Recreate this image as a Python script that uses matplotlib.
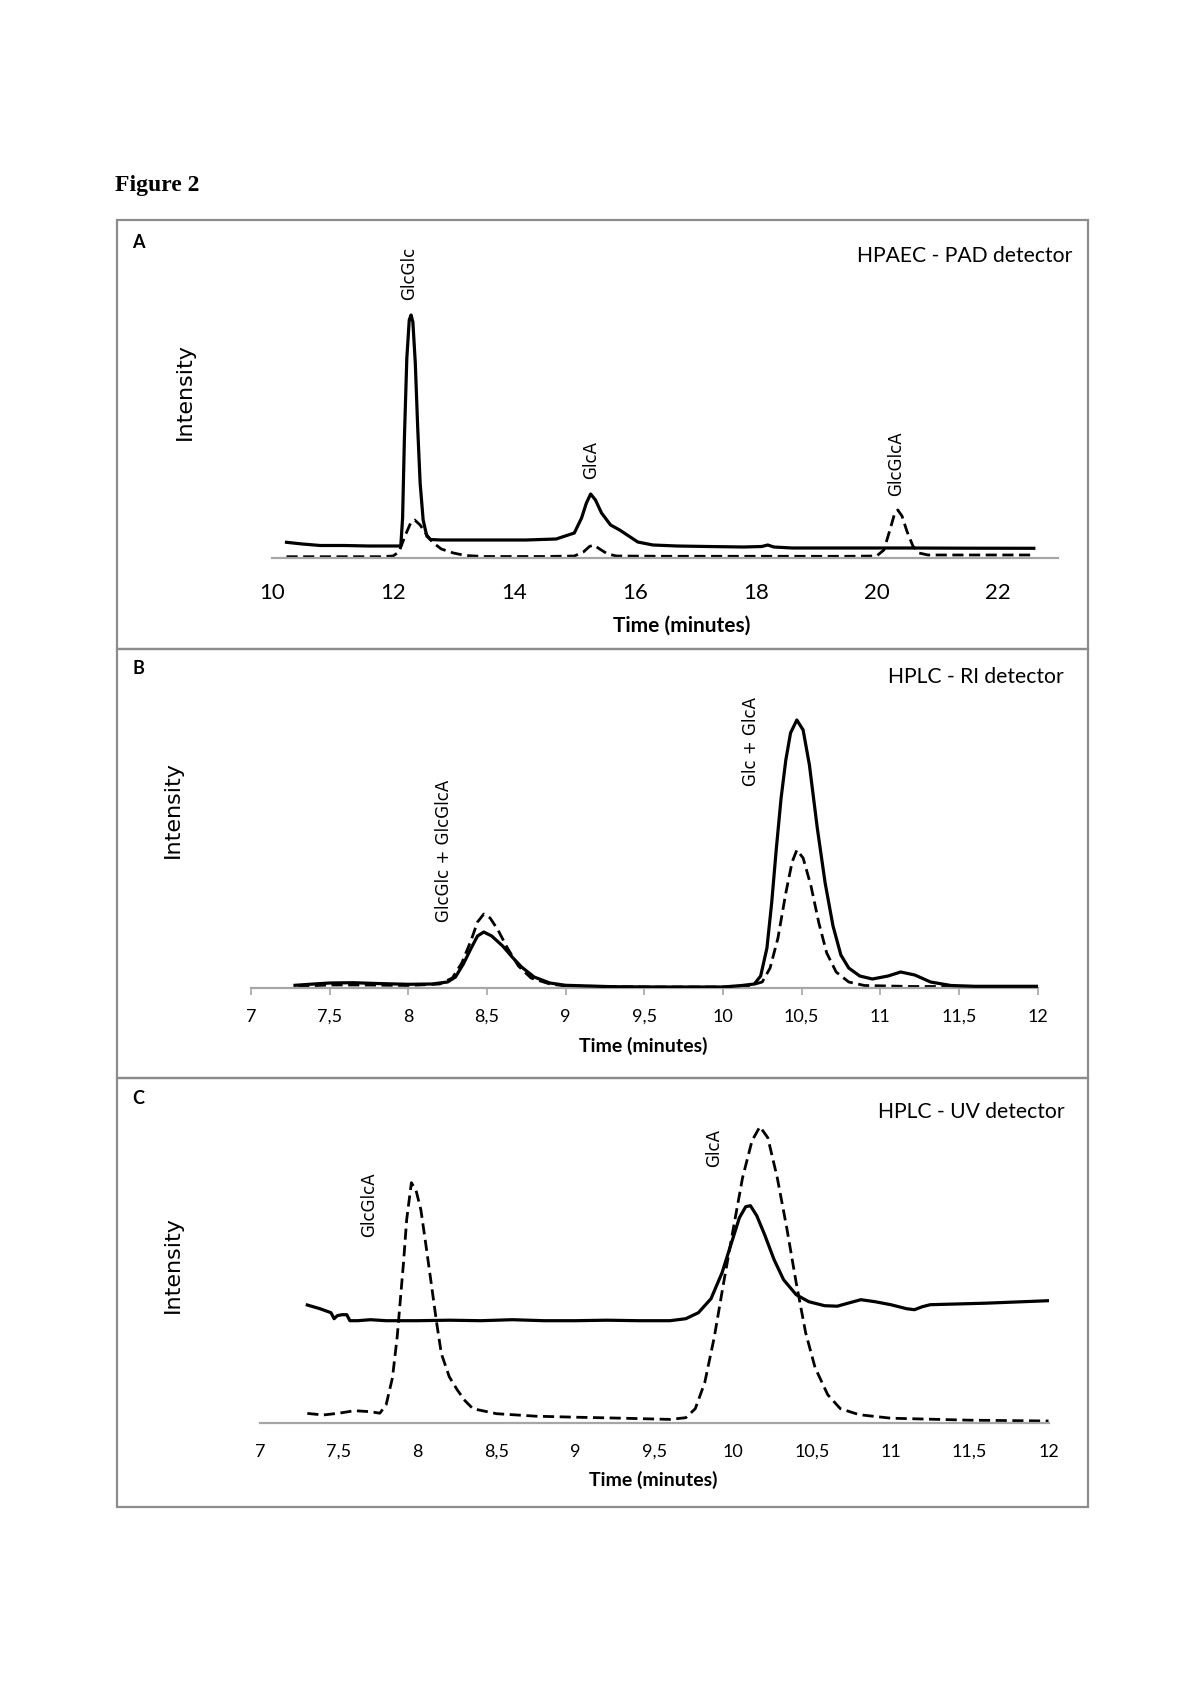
import matplotlib
matplotlib.use("Agg")
import matplotlib.pyplot as plt
from matplotlib.patches import Rectangle

# ---- data (intensity in arbitrary units) ----
# Panel A: HPAEC - PAD
a_time_solid = [10.24, 10.5, 10.8, 11.2, 11.6, 12.0, 12.13, 12.16, 12.19, 12.23, 12.27, 12.30,
                12.33, 12.37, 12.41, 12.45, 12.50, 12.56, 12.62, 12.8, 13.5, 14.2, 14.7, 15.0,
                15.12, 15.2, 15.27, 15.35, 15.45, 15.6, 15.75, 15.9, 16.05, 16.3, 16.7, 17.2,
                17.8, 18.1, 18.2, 18.3, 18.6, 19.5, 20.5, 21.5, 22.6]
a_int_solid = [15.7, 14, 12.5, 12.5, 12, 12, 12, 40, 120, 200, 238, 243,
               236, 195, 130, 75, 38, 22, 18.5, 18, 18, 18, 19, 25,
               40, 55, 64, 58, 45, 33, 28, 22, 16, 13, 12, 11.5,
               11, 11.5, 13, 11, 10, 10, 10, 9.8, 9.7]
a_time_dash = [10.24, 11.0, 11.8, 12.0, 12.1, 12.2, 12.3, 12.36, 12.45, 12.55, 12.65, 12.8,
               13.0, 13.2, 13.5, 14.5, 15.0, 15.15, 15.25, 15.32, 15.42, 15.55, 15.7, 16.5,
               18.0, 19.5, 20.0, 20.12, 20.22, 20.3, 20.35, 20.42, 20.5, 20.6, 20.7, 20.85,
               21.5, 22.6]
a_int_dash = [1.3, 1.3, 1.3, 2, 6, 22, 36, 38, 33, 24, 16, 9,
              5, 2.5, 1.5, 1.5, 2, 6, 11.5, 13, 9, 4, 2, 1.7,
              1.7, 1.7, 2, 8, 28, 45, 48, 42, 27, 12, 5, 3,
              3, 3]

# Panel B: HPLC - RI
b_time_solid = [7.28, 7.4, 7.5, 7.65, 7.8, 8.0, 8.15, 8.25, 8.3, 8.35, 8.4, 8.44, 8.48, 8.53,
                8.6, 8.66, 8.72, 8.8, 8.9, 9.0, 9.3, 9.6, 10.0, 10.12, 10.2, 10.24, 10.28,
                10.31, 10.34, 10.37, 10.40, 10.43, 10.47, 10.51, 10.55, 10.6, 10.65, 10.7,
                10.75, 10.8, 10.87, 10.95, 11.05, 11.13, 11.22, 11.32, 11.45, 11.6, 12.0]
b_int_solid = [2.7, 4, 5, 5.3, 4.5, 3.7, 4, 6, 11, 24, 40, 52, 56, 52,
               42, 31, 21, 11, 5, 2.7, 1.3, 1, 1, 2.5, 4, 12, 40,
               85, 140, 190, 228, 255, 268, 258, 223, 160, 105, 62,
               33, 20, 12, 9, 12, 16, 13, 6, 2.5, 1.7, 1.7]
b_time_dash = [7.3, 7.5, 7.7, 8.0, 8.2, 8.28, 8.34, 8.4, 8.44, 8.48, 8.52, 8.57, 8.63, 8.7,
               8.78, 8.9, 9.0, 9.5, 10.0, 10.15, 10.25, 10.3, 10.35, 10.4, 10.44, 10.47,
               10.51, 10.56, 10.61, 10.66, 10.72, 10.8, 10.9, 11.2, 12.0]
b_int_dash = [1.7, 3, 3, 2.5, 4, 10, 25, 48, 66, 74, 70, 58, 40, 22,
              10, 4, 2, 1, 1, 1.5, 6, 20, 50, 95, 126, 138,
              130, 102, 65, 35, 16, 6, 2.5, 1.5, 1.5]

# Panel C: HPLC - UV
c_time_solid = [7.30, 7.38, 7.45, 7.47, 7.49, 7.52, 7.55, 7.57, 7.62, 7.7, 7.8, 8.0, 8.2, 8.4,
                8.6, 8.8, 9.0, 9.2, 9.4, 9.6, 9.7, 9.78, 9.86, 9.93, 9.99, 10.04, 10.08,
                10.11, 10.15, 10.2, 10.26, 10.32, 10.4, 10.48, 10.58, 10.66, 10.74, 10.81,
                10.9, 11.0, 11.1, 11.15, 11.2, 11.25, 11.6, 12.0]
c_int_solid = [117.7, 114, 110, 104, 107, 108, 108, 102, 102, 103, 102, 102, 102.5, 102,
               103, 102, 102, 102.5, 102, 102, 104, 110, 124, 150, 180, 205, 216,
               217, 207, 188, 163, 143, 128, 121, 117, 116.5, 120, 123,
               121, 118, 114, 113, 116, 118, 119.5, 122]
c_time_dash = [7.30, 7.4, 7.5, 7.6, 7.7, 7.76, 7.8, 7.84, 7.87, 7.91, 7.93, 7.96, 7.99, 8.02,
               8.05, 8.08, 8.12, 8.15, 8.2, 8.25, 8.3, 8.35, 8.5, 8.75, 9.0, 9.3, 9.6, 9.7,
               9.76, 9.82, 9.88, 9.94, 10.0, 10.06, 10.12, 10.17, 10.22, 10.28, 10.34, 10.4,
               10.46, 10.52, 10.6, 10.68, 10.8, 11.0, 11.5, 12.0]
c_int_dash = [9.3, 7.7, 9.5, 12, 11, 9.5, 18, 45, 86, 160, 203, 240, 232, 213,
              180, 146, 100, 69, 46, 33, 22, 14, 9, 6.5, 5.5, 4.5, 3.3, 5,
              14, 40, 85, 140, 193, 245, 282, 296, 285, 245, 195, 140,
              90, 55, 28, 14, 8, 4.5, 2.5, 1.7]

a_ticks = [10, 12, 14, 16, 18, 20, 22]
bc_ticks = [7, 7.5, 8, 8.5, 9, 9.5, 10, 10.5, 11, 11.5, 12]

W, H = 1200, 1698
fig = plt.figure(figsize=(W / 100, H / 100), dpi=100)
fig.patch.set_facecolor("white")

GRAY = "#8c8c8c"
AXGRAY = "#a6a6a6"
TXT = "Lato"
LBL = "DejaVu Sans"


def px_axes(left, top, right, bottom):
    return fig.add_axes([left / W, 1 - bottom / H, (right - left) / W, (bottom - top) / H])


def fx(x):
    return x / W


def fy(y):
    return 1 - y / H


def style_axes(ax, ticks, tick_len, fs, pad):
    for s in ["top", "right", "left"]:
        ax.spines[s].set_visible(False)
    ax.spines["bottom"].set_color(AXGRAY)
    ax.spines["bottom"].set_linewidth(1.6)
    ax.set_yticks([])
    ax.set_xticks(ticks)
    ax.set_xticklabels([f"{t:g}".replace(".", ",") for t in ticks], fontfamily=TXT, fontsize=fs)
    ax.tick_params(axis="x", length=tick_len, width=1.2, color=AXGRAY, pad=pad, direction="out")
    ax.patch.set_alpha(0)


def draw(ax, ts, ys, td, yd):
    ax.plot(ts, ys, color="black", lw=2.3, solid_joinstyle="round", zorder=3)
    ax.plot(td, yd, color="black", lw=2.0, dashes=(4.0, 2.0), zorder=2)


def peak_label(ax, x, y, txt):
    ax.text(x, y, txt, rotation=90, ha="center", va="center", fontsize=12,
            fontfamily=LBL, clip_on=False)


# ---- panel frames ----
for top, bot in [(220, 649), (649, 1078), (1078, 1507)]:
    fig.patches.append(Rectangle((fx(117), fy(bot)), fx(1088) - fx(117), fy(top) - fy(bot),
                                 transform=fig.transFigure, fill=False, edgecolor=GRAY, lw=1.6))

fig.text(fx(115), fy(186), "Figure 2", fontfamily="Liberation Serif", fontweight="bold",
         fontsize=17, ha="left", va="center")

# ---- Panel A ----
axA = px_axes(272, 240, 1058, 558)
draw(axA, a_time_solid, a_int_solid, a_time_dash, a_int_dash)
axA.set_xlim(10, 23)
axA.set_ylim(0, 318)
style_axes(axA, a_ticks, 0, 16, 18)
peak_label(axA, 12.27, 285, "GlcGlc")
peak_label(axA, 15.27, 98, "GlcA")
peak_label(axA, 20.33, 94, "GlcGlcA")
fig.text(fx(138), fy(242), "A", fontfamily=TXT, fontweight="bold", fontsize=13, ha="center", va="center")
fig.text(fx(1072), fy(256), "HPAEC - PAD detector", fontfamily=TXT, fontsize=15.2, ha="right", va="center")
fig.text(fx(185), fy(392), "Intensity", fontfamily=LBL, fontsize=16, rotation=90, ha="center", va="center")
fig.text(fx(682), fy(626), "Time (minutes)", fontfamily=TXT, fontweight="bold", fontsize=15, ha="center", va="center")

# ---- Panel B ----
axB = px_axes(251, 680, 1037.5, 988)
draw(axB, b_time_solid, b_int_solid, b_time_dash, b_int_dash)
axB.set_xlim(7, 12)
axB.set_ylim(0, 308)
style_axes(axB, bc_ticks, 5, 13, 10)
peak_label(axB, 8.23, 137, "GlcGlc + GlcGlcA")
peak_label(axB, 10.18, 246, "Glc + GlcA")
fig.text(fx(138), fy(669), "B", fontfamily=TXT, fontweight="bold", fontsize=13, ha="center", va="center")
fig.text(fx(1064), fy(677), "HPLC - RI detector", fontfamily=TXT, fontsize=15.2, ha="right", va="center")
fig.text(fx(173), fy(810), "Intensity", fontfamily=LBL, fontsize=16, rotation=90, ha="center", va="center")
fig.text(fx(643), fy(1046), "Time (minutes)", fontfamily=TXT, fontweight="bold", fontsize=14, ha="center", va="center")

# ---- Panel C ----
axC = px_axes(260, 1110, 1048.5, 1422.7)
draw(axC, c_time_solid, c_int_solid, c_time_dash, c_int_dash)
axC.set_xlim(7, 12)
axC.set_ylim(0, 312.7)
style_axes(axC, bc_ticks, 0, 13, 15)
peak_label(axC, 7.69, 218, "GlcGlcA")
peak_label(axC, 9.88, 275, "GlcA")
fig.text(fx(138), fy(1098), "C", fontfamily=TXT, fontweight="bold", fontsize=13, ha="center", va="center")
fig.text(fx(1065), fy(1112), "HPLC - UV detector", fontfamily=TXT, fontsize=15.2, ha="right", va="center")
fig.text(fx(173), fy(1265), "Intensity", fontfamily=LBL, fontsize=16, rotation=90, ha="center", va="center")
fig.text(fx(653), fy(1480), "Time (minutes)", fontfamily=TXT, fontweight="bold", fontsize=14, ha="center", va="center")

fig.savefig("out.png", dpi=100, facecolor="white")
